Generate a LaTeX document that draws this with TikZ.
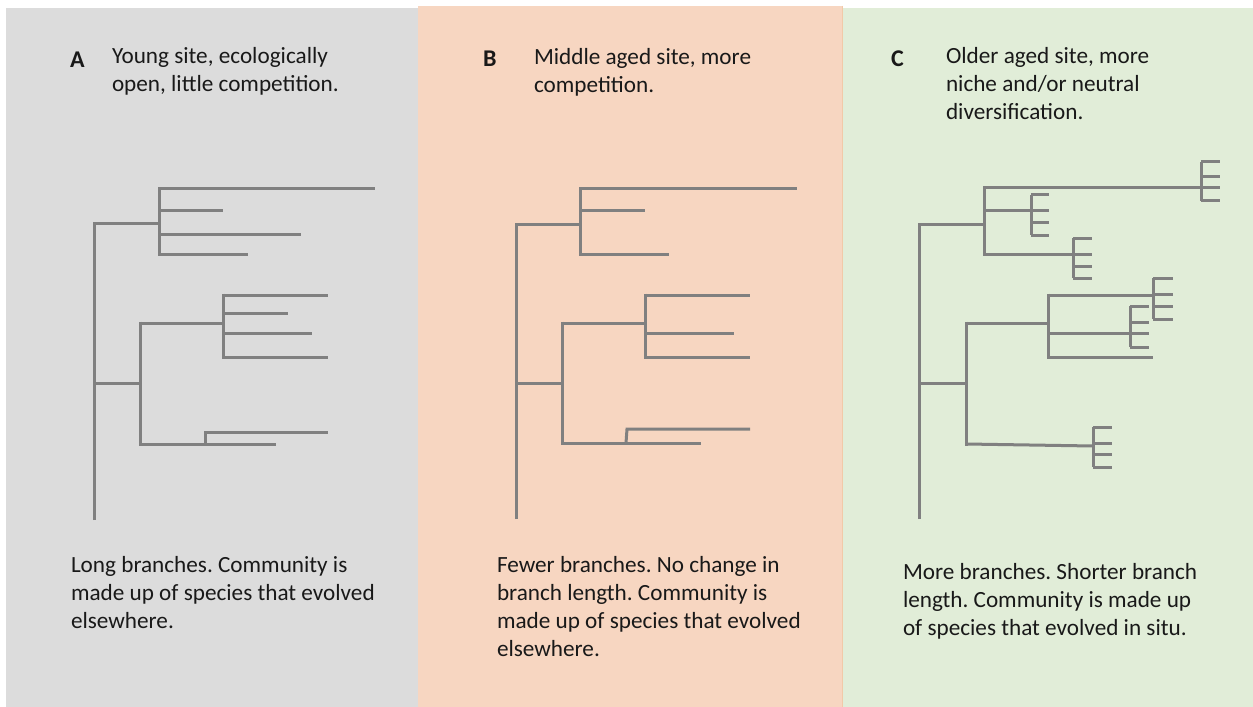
\documentclass[tikz,border=0pt]{standalone}
\usepackage{fontspec}
\setmainfont{Carlito}
\frenchspacing
\definecolor{panelA}{HTML}{DCDCDC}
\definecolor{panelB}{HTML}{F7D6C1}
\definecolor{panelBedge}{HTML}{F2C9A8}
\definecolor{panelC}{HTML}{E1EDD8}
\definecolor{branch}{HTML}{808080}
\newcommand\mycomb[6]{%
  \draw[br] (#1,#2) -- (#1,#5);
  \foreach \yy in {#2,#3,#4,#5} \draw[br] (#1,\yy) -- (#6,\yy);}
\tikzset{
  br/.style={draw=branch, line width=3bp, line cap=butt, line join=miter},
  txt/.style={inner sep=0pt, outer sep=0pt, anchor=base west, align=left,
    font=\fontsize{23.2bp}{28bp}\selectfont\frenchspacing, text=black!90},
  lbl/.style={inner sep=0pt, outer sep=0pt, anchor=base west,
    font=\fontsize{24bp}{28bp}\selectfont\bfseries, text=black!90}
}
\begin{document}
\begin{tikzpicture}[x=1bp, y=-1bp]
\useasboundingbox (0,0) rectangle (1253,707);
\fill[white] (0,0) rectangle (1253,707);
% panels
\fill[panelA] (6,8) rectangle (418,707);
\fill[panelC] (843,8) rectangle (1253,707);
\fill[panelB] (418,6) rectangle (843,707);
\draw[panelBedge, line width=1.2bp] (842.5,6) -- (842.5,707);

% headers (anchor = baseline of last line)
\node[lbl] (la) at (70,68) {A};
\node[txt] (ha) at (112,92) {Young site, ecologically\\open, little competition.};
\node[lbl] (lb) at (483,67) {B};
\node[txt] (hb) at (534,93) {Middle aged site, more\\competition.};
\node[lbl] (lc) at (891,67) {C};
\node[txt] (hc) at (946,120) {Older aged site, more\\niche and/or neutral\\diversification.};

% footers
\node[txt] (fa) at (71,628) {Long branches. Community is\\made up of species that evolved\\elsewhere.};
\node[txt] (fb) at (497,656) {Fewer branches. No change in\\branch length. Community is\\made up of species that evolved\\elsewhere.};
\node[txt] (fc) at (903,635) {More branches. Shorter branch\\length. Community is made up\\of species that evolved in situ.};

% tree A
\draw[br] (94,520) -- (94,223) -- (159,223);
\draw[br] (159,187.5) -- (159,255.5);
\draw[br] (159,189) -- (375,189);
\draw[br] (159,211) -- (223,211);
\draw[br] (159,234) -- (301,234);
\draw[br] (159,254) -- (248,254);
\draw[br] (94,383) -- (140,383);
\draw[br] (140,321.5) -- (140,445.5);
\draw[br] (140,323) -- (223,323);
\draw[br] (223,293.5) -- (223,358.5);
\draw[br] (223,295) -- (328,295);
\draw[br] (223,313) -- (288,313);
\draw[br] (223,333) -- (312,333);
\draw[br] (223,357) -- (328,357);
\draw[br] (140,444) -- (276,444);
\draw[br] (205,444) -- (205,432) -- (328,432);

% tree B
\draw[br] (516,519) -- (516,224) -- (580,224);
\draw[br] (580,187.5) -- (580,255.5);
\draw[br] (580,189) -- (797,189);
\draw[br] (580,211) -- (645,211);
\draw[br] (580,254) -- (669,254);
\draw[br] (516,383) -- (562,383);
\draw[br] (562,321.5) -- (562,444.5);
\draw[br] (562,323) -- (645,323);
\draw[br] (645,293.5) -- (645,358.5);
\draw[br] (645,295) -- (750,295);
\draw[br] (645,333) -- (734,333);
\draw[br] (645,357) -- (750,357);
\draw[br] (562,443) -- (701,443);
\draw[br] (626,443) -- (627,429) -- (750,429);

% tree C
\draw[br] (919,519) -- (919,224) -- (984,224);
\draw[br] (984,186.5) -- (984,255.5);
\draw[br] (984,188) -- (1201,188);
\mycomb{1201}{162}{177}{188}{201}{1220}
\draw[br] (984,211) -- (1031,211);
\mycomb{1031}{195}{211}{222}{235}{1049}
\draw[br] (984,254) -- (1073,254);
\mycomb{1073}{238}{254}{266}{278}{1092}
\draw[br] (919,383) -- (966,383);
\draw[br] (966,321.5) -- (966,445.5);
\draw[br] (966,323) -- (1048,323);
\draw[br] (1048,293.5) -- (1048,358.5);
\draw[br] (1048,295) -- (1153,295);
\mycomb{1153}{278}{294}{306}{319}{1173}
\draw[br] (1048,333) -- (1130,333);
\mycomb{1130}{306}{322}{333}{347}{1149}
\draw[br] (1048,357) -- (1153,357);
\draw[br] (966,444) -- (1093,446);
\mycomb{1093}{427}{443}{454}{467}{1112}
\end{tikzpicture}
\end{document}
